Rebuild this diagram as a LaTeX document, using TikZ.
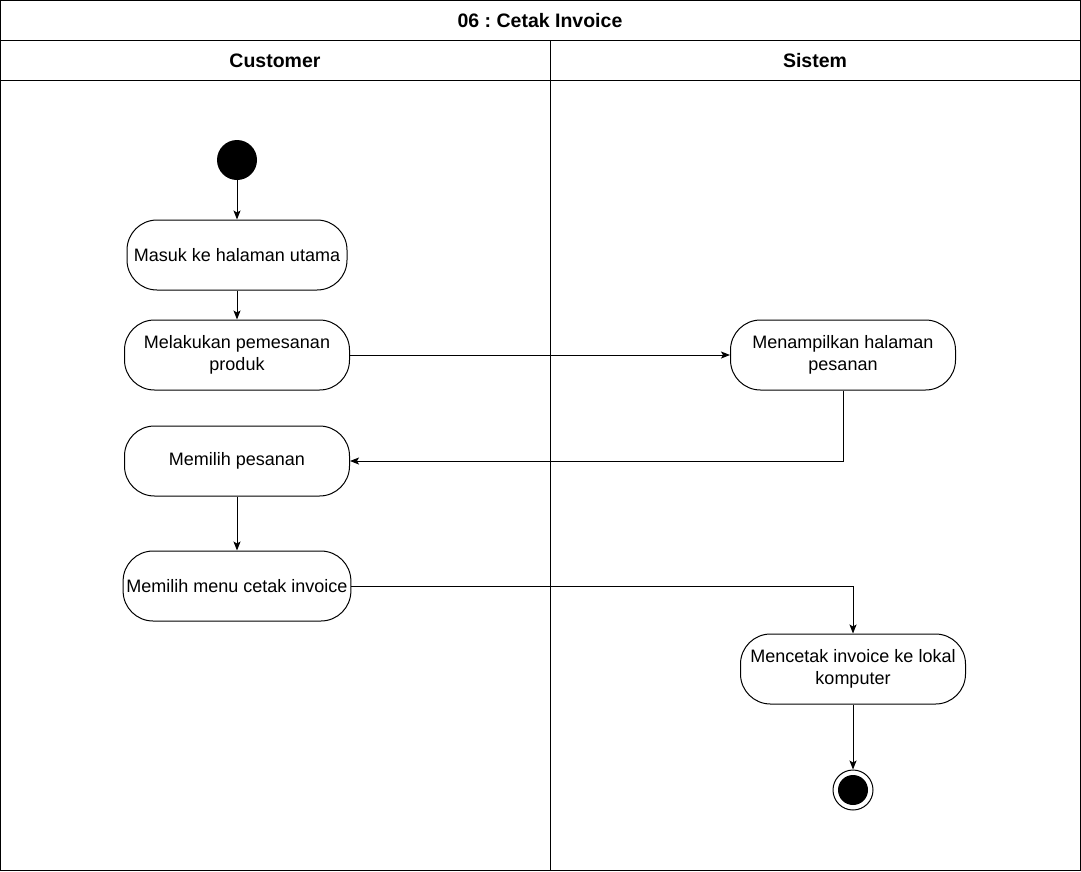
\documentclass[tikz,border=0pt]{standalone}
\usepackage{fontspec}
\setmainfont{Liberation Sans}
\usetikzlibrary{arrows.meta}
\frenchspacing
\tikzset{
  act/.style={draw, line width=1pt, rounded corners=30pt, minimum width=225pt,
    minimum height=70pt, align=center, font=\fontsize{18}{22}\selectfont},
  head/.style={font=\fontsize{19.5}{23}\selectfont\bfseries},
  flow/.style={draw, line width=1pt, -{Stealth[length=9pt,width=7pt,inset=2pt]}}
}

\begin{document}
\begin{tikzpicture}[x=1pt,y=-1pt]

      % swimlane frame: title, two lanes (Customer | Sistem)
      \useasboundingbox (0,0) rectangle (1081,871);
      \draw[line width=1pt] (0.5,0.5) rectangle (1080.5,870.5);
      \draw[line width=1pt] (0.5,40.5) -- (1080.5,40.5);
      \draw[line width=1pt] (0.5,80.5) -- (1080.5,80.5);
      \draw[line width=1pt] (550.5,40.5) -- (550.5,870.5);
      \node[head] (title) at (540,21) {06 : Cetak Invoice};
      \node[head] (lcust) at (275,61) {Customer};
      \node[head] (lsys) at (815,61) {Sistem};

      % start and end points
      \node[circle, fill=black, minimum size=40pt, inner sep=0pt] (start) at (237,160) {};
      \node[circle, draw, line width=1pt, fill=white, minimum size=40pt, inner sep=0pt] (stop) at (853,790) {};
      \node[circle, fill=black, minimum size=30pt, inner sep=0pt] at (stop) {};

      % activities
      \node[act, minimum width=220pt] (masuk) at (237,255) {Masuk ke halaman utama};
      \node[act] (pesan) at (237,355) {Melakukan pemesanan\\produk};
      \node[act] (tampil) at (843,355) {Menampilkan halaman\\pesanan};
      \node[act] (pilih) at (237,461) {Memilih pesanan};
      \node[act, minimum width=224pt] (menu) at (237,586) {Memilih menu cetak invoice};
      \node[act] (cetak) at (853,669) {Mencetak invoice ke lokal\\komputer};

      % transitions
      \draw[flow] (start) -- (masuk);
      \draw[flow] (masuk) -- (pesan);
      \draw[flow] (pesan) -- (tampil);
      \draw[flow] (tampil.south) |- (pilih.east);
      \draw[flow] (pilih) -- (menu);
      \draw[flow] (menu.east) -| (cetak.north);
      \draw[flow] (cetak) -- (stop);

    \end{tikzpicture}
\end{document}
